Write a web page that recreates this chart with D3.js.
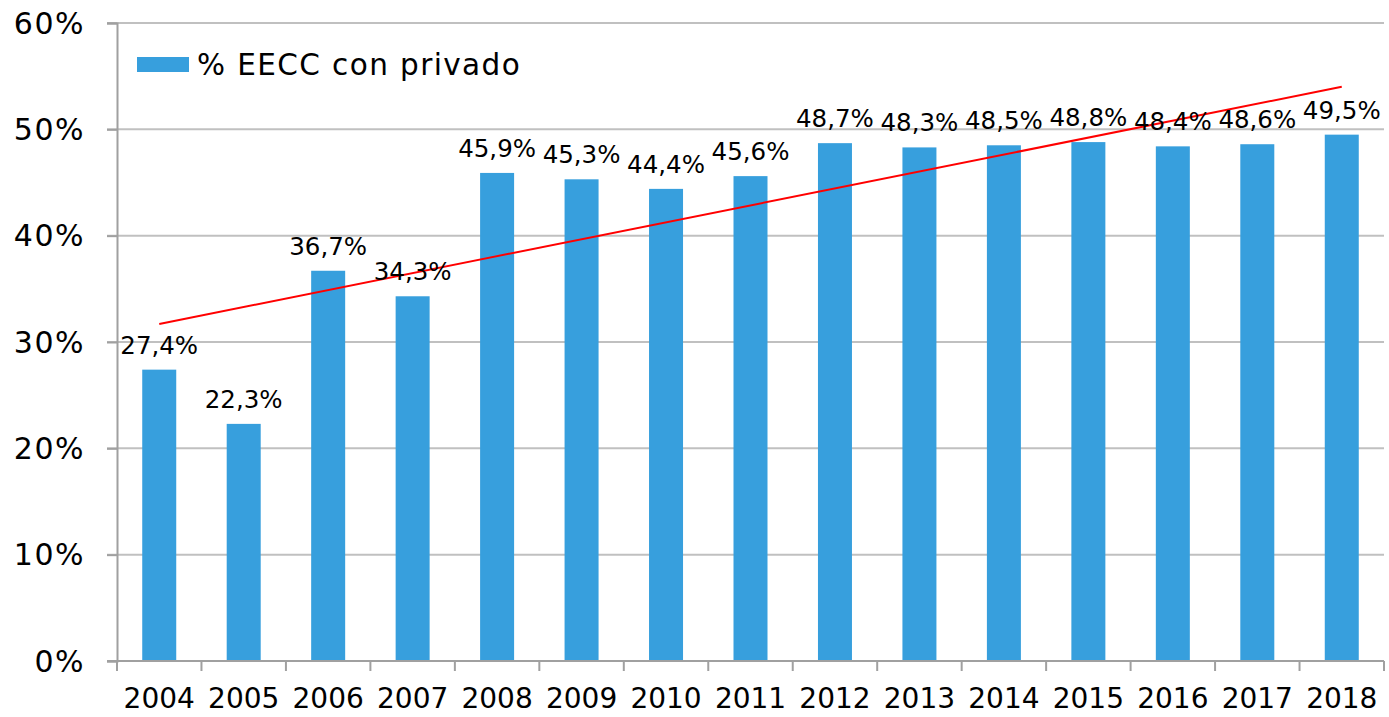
<!DOCTYPE html>
<html><head><meta charset="utf-8">
<script src="https://cdn.jsdelivr.net/npm/d3@7"></script>
<style>body{margin:0;background:#fff}svg{display:block;font-family:"DejaVu Sans",Verdana,sans-serif}</style>
</head><body><svg id="c" width="1389" height="717"></svg>
<script>
const years = ["2004","2005","2006","2007","2008","2009","2010","2011","2012","2013","2014","2015","2016","2017","2018"];
const values = [27.4,22.3,36.7,34.3,45.9,45.3,44.4,45.6,48.7,48.3,48.5,48.8,48.4,48.6,49.5];
const trendValues = [31.7, 54.0]; // linear trend at first and last year
const yTicks = [0,10,20,30,40,50,60];
const seriesName = "% EECC con privado";

const svg = d3.select("#c");
const L=117, R=1384, T=23, B=661;
const x = d3.scaleBand().domain(years).range([L,R]).paddingInner(0).paddingOuter(0);
const y = d3.scaleLinear().domain([0,60]).range([B,T]);
const fmt = v => v.toFixed(1).replace(".",",")+"%";

// gridlines
svg.append("g").selectAll("line").data(yTicks.filter(d=>d>0)).join("line")
  .attr("x1",L-10).attr("x2",R).attr("y1",d=>y(d)).attr("y2",d=>y(d))
  .attr("stroke","#c0c0c0").attr("stroke-width",2);

// y axis
const ya = svg.append("g").attr("transform",`translate(${L},0)`)
  .call(d3.axisLeft(y).tickValues(yTicks).tickFormat(d=>d+"%").tickSize(10).tickPadding(22));
ya.select(".domain").attr("stroke","#a0a0a0").attr("stroke-width",2);
ya.selectAll(".tick line").attr("stroke","#a0a0a0").attr("stroke-width",2);
ya.selectAll("text").attr("font-size",30).attr("fill","#000").attr("font-family","DejaVu Sans")
  .attr("letter-spacing",1.5).attr("dy","0.34em");

// bars
const bw = 34;
svg.append("g").selectAll("rect").data(values).join("rect")
  .attr("x",(d,i)=>x(years[i])+x.bandwidth()/2-bw/2).attr("width",bw)
  .attr("y",d=>y(d)).attr("height",d=>B-y(d)).attr("fill","#379fdd");

// x axis
const xa = svg.append("g").attr("transform",`translate(0,${B})`)
  .call(d3.axisBottom(x).tickSize(0).tickPadding(27));
xa.select(".domain").remove();
svg.append("line").attr("x1",L-10).attr("x2",R).attr("y1",B).attr("y2",B).attr("stroke","#a0a0a0").attr("stroke-width",2);
const bounds = years.map(yr=>x(yr)).concat([R]);
svg.append("g").selectAll("line").data(bounds).join("line")
  .attr("x1",d=>d).attr("x2",d=>d).attr("y1",B).attr("y2",B+10)
  .attr("stroke","#a0a0a0").attr("stroke-width",2);
xa.selectAll("text").attr("font-size",28).attr("fill","#000").attr("font-family","DejaVu Sans");

// trend line
svg.append("line")
  .attr("x1",x(years[0])+x.bandwidth()/2).attr("y1",y(trendValues[0]))
  .attr("x2",x(years[years.length-1])+x.bandwidth()/2).attr("y2",y(trendValues[1]))
  .attr("stroke","#ff0000").attr("stroke-width",2);

// data labels
svg.append("g").selectAll("text").data(values).join("text")
  .attr("x",(d,i)=>x(years[i])+x.bandwidth()/2).attr("y",d=>y(d)-16)
  .attr("text-anchor","middle").attr("font-size",24.5).attr("fill","#000")
  .text(d=>fmt(d));

// legend
svg.append("rect").attr("x",137).attr("y",57).attr("width",52).attr("height",15).attr("fill","#379fdd");
svg.append("text").attr("x",197).attr("y",75).attr("font-size",29.5).attr("letter-spacing",1.4)
  .attr("fill","#000").text(seriesName);
</script></body></html>
